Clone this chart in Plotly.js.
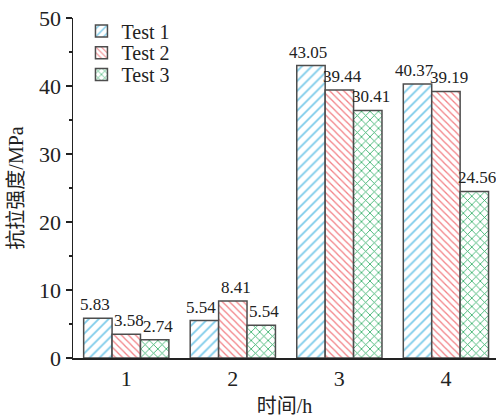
<!DOCTYPE html>
<html>
<head>
<meta charset="utf-8">
<script src="https://cdn.plot.ly/plotly-3.0.1.min.js"></script>
<style>html,body{margin:0;padding:0;background:#fff;}#chart{width:496px;height:417px;}</style>
</head>
<body>
<div id="chart"></div>
<script>
var categories = ['1', '2', '3', '4'];
var seriesNames = ['Test 1', 'Test 2', 'Test 3'];
var test1 = [5.84, 5.5, 43.0, 40.3];
var test2 = [3.5, 8.4, 39.4, 39.2];
var test3 = [2.7, 4.8, 36.4, 24.5];
var test1Labels = ['5.83', '5.54', '43.05', '40.37'];
var test2Labels = ['3.58', '8.41', '39.44', '39.19'];
var test3Labels = ['2.74', '5.54', '30.41', '24.56'];
var yTicks = [0, 10, 20, 30, 40, 50];

var serif = '"Liberation Serif", "Times New Roman", "Noto Sans CJK SC", serif';
var fills = ['#7ccbea', '#f27f84', '#2aac62'];
var shapes = ['/', '\\', 'x'];
var sizes = [7, 5, 6];
var values = [test1, test2, test3];
var labels = [test1Labels, test2Labels, test3Labels];
var bargap = 0.2;
var legendNames = ['legend', 'legend2', 'legend3'];
var labelShift = [-3, 3, 3];

var traces = values.map(function (v, i) {
  return {
    type: 'bar',
    name: seriesNames[i],
    x: categories,
    y: v,
    legend: legendNames[i],
    marker: {
      color: '#ffffff',
      line: {color: '#4d4d4d', width: 1.5},
      pattern: {shape: shapes[i], fgcolor: fills[i], bgcolor: '#ffffff', size: sizes[i], solidity: 0.25}
    },
    hoverinfo: 'none'
  };
});

var annotations = [];
var barW = (1 - bargap) / 3;
values.forEach(function (v, i) {
  v.forEach(function (val, j) {
    annotations.push({
      xref: 'x', yref: 'y',
      x: j + (i - 1) * barW,
      y: val,
      text: labels[i][j],
      showarrow: false,
      xanchor: 'center', yanchor: 'bottom',
      xshift: labelShift[i], yshift: 2,
      font: {family: serif, size: 17, color: '#222'}
    });
  });
});

function legendAt(py) {
  return {
    x: 0.02, y: py, xanchor: 'left', yanchor: 'middle',
    font: {family: serif, size: 20, color: '#222'},
    bgcolor: 'rgba(0,0,0,0)'
  };
}

var layout = {
  width: 496,
  height: 417,
  margin: {l: 73, r: 0, t: 18, b: 59},
  paper_bgcolor: '#ffffff',
  plot_bgcolor: '#ffffff',
  barmode: 'group',
  bargap: bargap,
  bargroupgap: 0,
  showlegend: true,
  legend: legendAt(0.962),
  legend2: legendAt(0.898),
  legend3: legendAt(0.834),
  annotations: annotations,
  font: {family: serif, color: '#222'},
  xaxis: {
    type: 'category',
    range: [-0.5, 3.47],
    showline: true,
    linecolor: '#222',
    linewidth: 1.5,
    ticks: '',
    showgrid: false,
    zeroline: false,
    tickfont: {family: serif, size: 22, color: '#222'},
    title: {text: '时间/h', font: {family: serif, size: 20, color: '#222'}, standoff: 12}
  },
  yaxis: {
    range: [0, 50],
    tickvals: yTicks,
    ticktext: yTicks.map(String),
    showline: true,
    linecolor: '#222',
    linewidth: 1.5,
    ticks: 'outside',
    ticklen: 6,
    tickwidth: 1.5,
    tickcolor: '#222',
    minor: {dtick: 5, ticks: 'outside', ticklen: 3, tickwidth: 1.5, tickcolor: '#222'},
    showgrid: false,
    zeroline: false,
    tickfont: {family: serif, size: 22, color: '#222'},
    title: {text: '抗拉强度/MPa', font: {family: serif, size: 20, color: '#222'}, standoff: 10}
  }
};

Plotly.newPlot('chart', traces, layout, {displayModeBar: false, staticPlot: true});
</script>
</body>
</html>
